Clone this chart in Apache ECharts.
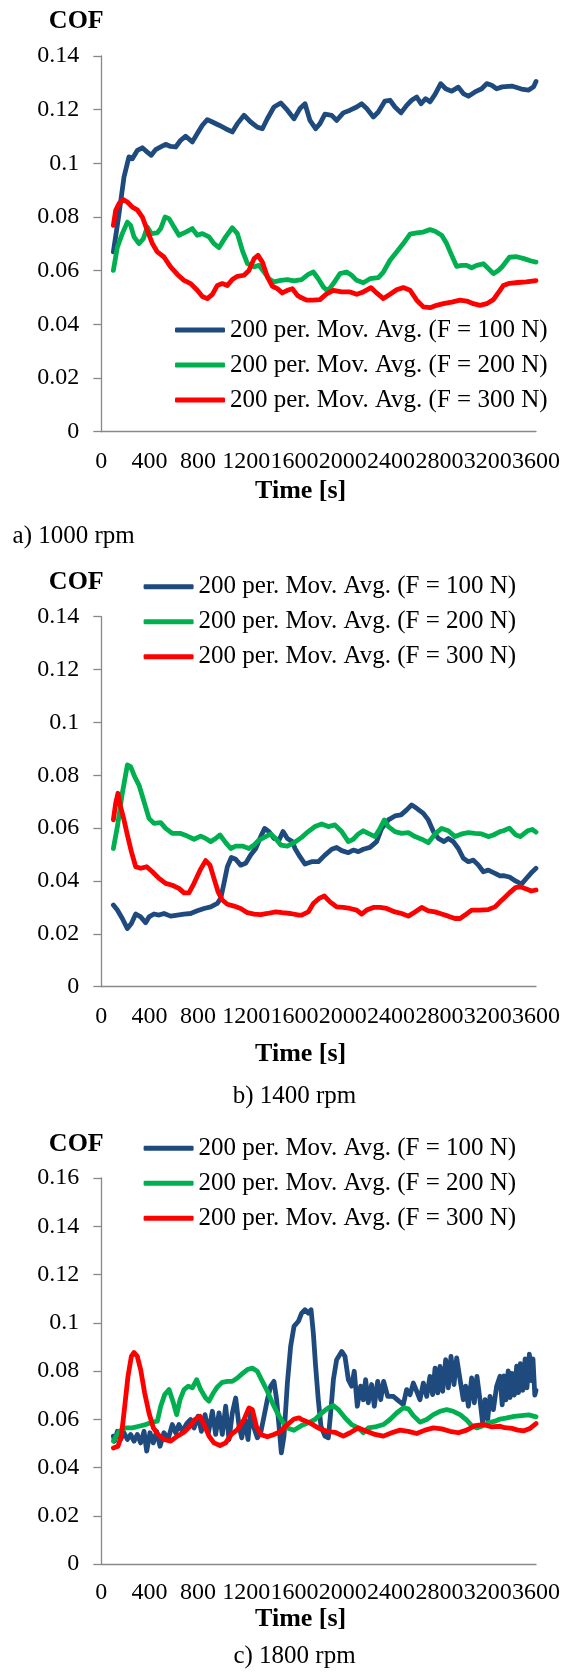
<!DOCTYPE html>
<html>
<head>
<meta charset="utf-8">
<script src="https://cdn.jsdelivr.net/npm/echarts@6/dist/echarts.min.js"></script>
<style>
html,body{margin:0;padding:0;background:#fff;}
#chart{width:566px;height:1673px;}
</style>
</head>
<body>
<div id="chart"></div>
<script>
// ---- data: [time (s), COF] ----
const seriesNames = ['200 per. Mov. Avg. (F = 100 N)', '200 per. Mov. Avg. (F = 200 N)', '200 per. Mov. Avg. (F = 300 N)'];
const captions = ['a) 1000 rpm', 'b) 1400 rpm', 'c) 1800 rpm'];
const xTicks = {min: 0, max: 3600, interval: 400};
const yMaxes = [0.14, 0.14, 0.16];

const a100 = [[100,0.067],[147,0.0813],[188,0.0949],[229,0.1024],[257,0.1017],[298,0.1048],[340,0.1058],[381,0.1042],[414,0.103],[450,0.1051],[492,0.1061],[533,0.1071],[574,0.1063],[616,0.1061],[657,0.1086],[699,0.1101],[754,0.108],[795,0.1111],[837,0.1142],[878,0.1163],[920,0.1154],[975,0.1142],[1030,0.1129],[1085,0.1117],[1127,0.1148],[1182,0.1179],[1237,0.1154],[1292,0.1135],[1334,0.1129],[1375,0.1166],[1430,0.121],[1486,0.1225],[1541,0.1198],[1596,0.1166],[1645,0.1204],[1687,0.1222],[1728,0.116],[1775,0.1129],[1811,0.1148],[1852,0.1183],[1908,0.1179],[1949,0.116],[2004,0.1188],[2060,0.1198],[2115,0.121],[2156,0.1222],[2198,0.1204],[2253,0.1173],[2294,0.1191],[2349,0.1232],[2391,0.1235],[2432,0.121],[2482,0.1188],[2529,0.1216],[2570,0.1235],[2612,0.1247],[2648,0.1222],[2686,0.1241],[2722,0.1229],[2764,0.1257],[2811,0.1297],[2852,0.1278],[2902,0.1269],[2957,0.1284],[2998,0.126],[3040,0.125],[3095,0.1266],[3150,0.1278],[3192,0.1297],[3233,0.1291],[3274,0.1278],[3320,0.1285],[3400,0.1288],[3480,0.1277],[3540,0.1273],[3580,0.1285],[3600,0.1305]];
const a200 = [[100,0.0601],[133,0.0688],[174,0.0738],[216,0.0781],[243,0.0769],[271,0.0726],[312,0.0701],[348,0.0719],[381,0.0763],[414,0.0738],[464,0.0741],[492,0.0757],[528,0.08],[561,0.0794],[602,0.0763],[643,0.0732],[699,0.0744],[754,0.0757],[795,0.0732],[837,0.0738],[892,0.0726],[933,0.0701],[975,0.0686],[1030,0.0726],[1085,0.076],[1127,0.0738],[1168,0.0676],[1210,0.0626],[1265,0.0614],[1306,0.062],[1348,0.0595],[1389,0.057],[1430,0.0558],[1486,0.0564],[1541,0.0567],[1596,0.0562],[1659,0.0567],[1714,0.0586],[1756,0.0595],[1797,0.057],[1839,0.0539],[1875,0.0524],[1922,0.0552],[1977,0.0589],[2032,0.0595],[2073,0.0583],[2115,0.0564],[2170,0.0555],[2225,0.057],[2294,0.0574],[2336,0.0595],[2391,0.0639],[2446,0.067],[2501,0.0701],[2557,0.0736],[2612,0.0741],[2667,0.0744],[2722,0.0753],[2764,0.0747],[2819,0.0732],[2860,0.0701],[2902,0.0657],[2943,0.0616],[2984,0.062],[3026,0.062],[3067,0.0611],[3109,0.062],[3164,0.0626],[3205,0.0608],[3247,0.0589],[3288,0.0601],[3320,0.0615],[3380,0.065],[3440,0.0652],[3500,0.0645],[3560,0.0636],[3600,0.0632]];
const a300 = [[100,0.0769],[119,0.0825],[147,0.085],[182,0.0865],[216,0.0856],[257,0.0837],[298,0.0827],[340,0.08],[381,0.075],[423,0.0701],[464,0.067],[519,0.0651],[574,0.0614],[630,0.0586],[685,0.0564],[740,0.0552],[795,0.0527],[837,0.0504],[878,0.0496],[920,0.0512],[961,0.0545],[1002,0.0552],[1044,0.0545],[1085,0.0567],[1127,0.0579],[1182,0.0583],[1223,0.0601],[1265,0.0645],[1298,0.0657],[1334,0.0632],[1375,0.0577],[1417,0.0542],[1458,0.0533],[1499,0.0517],[1541,0.0527],[1582,0.0533],[1624,0.0508],[1645,0.0502],[1701,0.049],[1756,0.049],[1811,0.0492],[1866,0.0514],[1922,0.0527],[1990,0.0521],[2060,0.0521],[2115,0.0512],[2170,0.0521],[2233,0.0537],[2280,0.0517],[2336,0.0496],[2391,0.0512],[2446,0.0529],[2501,0.0537],[2557,0.0527],[2612,0.049],[2667,0.0465],[2722,0.0462],[2777,0.0471],[2833,0.0477],[2902,0.0483],[2971,0.049],[3026,0.0487],[3081,0.0477],[3136,0.0471],[3192,0.0477],[3247,0.0492],[3302,0.0527],[3330,0.0545],[3380,0.0553],[3450,0.0556],[3520,0.0558],[3600,0.0563]];

const b100 = [[100,0.0309],[133,0.029],[174,0.0258],[216,0.022],[249,0.0239],[285,0.0275],[326,0.0264],[367,0.0242],[395,0.0264],[436,0.0275],[478,0.0271],[519,0.0277],[574,0.0267],[630,0.0271],[685,0.0275],[740,0.0277],[795,0.0287],[851,0.0296],[906,0.0302],[961,0.0315],[989,0.0334],[1016,0.0391],[1044,0.0454],[1077,0.0489],[1113,0.0482],[1154,0.046],[1196,0.0467],[1237,0.0498],[1279,0.0523],[1320,0.0568],[1353,0.0599],[1389,0.0587],[1430,0.0561],[1472,0.0555],[1505,0.0587],[1541,0.0561],[1582,0.0549],[1604,0.0523],[1645,0.0492],[1687,0.0464],[1742,0.0473],[1797,0.0473],[1852,0.0498],[1908,0.052],[1949,0.0527],[1991,0.0515],[2046,0.0507],[2087,0.0517],[2129,0.0511],[2170,0.052],[2225,0.0527],[2280,0.0549],[2322,0.0599],[2377,0.0631],[2432,0.0646],[2482,0.065],[2529,0.0669],[2570,0.0688],[2612,0.0675],[2667,0.0656],[2708,0.0631],[2750,0.0587],[2791,0.0561],[2838,0.0549],[2874,0.0561],[2915,0.0549],[2957,0.0523],[2998,0.0486],[3040,0.0473],[3081,0.0479],[3123,0.046],[3164,0.0435],[3205,0.0441],[3261,0.0429],[3302,0.0419],[3330,0.042],[3380,0.0415],[3430,0.04],[3480,0.0388],[3530,0.0415],[3570,0.0435],[3600,0.0448]];
const b200 = [[100,0.0523],[133,0.0605],[174,0.0732],[216,0.0839],[243,0.0833],[276,0.0795],[312,0.0763],[354,0.07],[395,0.0637],[436,0.0618],[492,0.0621],[533,0.0599],[588,0.058],[657,0.058],[713,0.057],[768,0.0558],[823,0.057],[864,0.0561],[906,0.0549],[947,0.0561],[983,0.0574],[1030,0.0545],[1072,0.0523],[1113,0.0532],[1168,0.0532],[1223,0.0523],[1265,0.0536],[1306,0.0555],[1361,0.0568],[1403,0.0578],[1444,0.0561],[1486,0.0536],[1541,0.0532],[1596,0.0545],[1659,0.0565],[1714,0.0587],[1770,0.0606],[1825,0.0616],[1880,0.0606],[1935,0.0612],[1991,0.0587],[2046,0.0549],[2087,0.0558],[2129,0.0578],[2170,0.059],[2211,0.058],[2267,0.0568],[2308,0.0599],[2344,0.0631],[2377,0.0606],[2432,0.0587],[2487,0.058],[2543,0.0583],[2598,0.0568],[2653,0.0558],[2708,0.0545],[2764,0.0578],[2819,0.0599],[2874,0.059],[2929,0.0568],[2984,0.0578],[3040,0.0583],[3095,0.058],[3150,0.0578],[3205,0.0568],[3247,0.0574],[3302,0.0587],[3330,0.059],[3380,0.06],[3430,0.0575],[3470,0.0568],[3530,0.059],[3570,0.0595],[3600,0.0585]];
const b300 = [[100,0.0631],[119,0.0694],[138,0.0732],[160,0.0681],[188,0.0631],[216,0.0574],[249,0.0511],[285,0.0454],[326,0.0448],[376,0.0454],[423,0.0435],[478,0.041],[533,0.0391],[588,0.0384],[643,0.0372],[685,0.0355],[726,0.0355],[768,0.0391],[818,0.0441],[864,0.0477],[900,0.046],[933,0.041],[967,0.0359],[1002,0.0328],[1044,0.0312],[1099,0.0305],[1154,0.0296],[1210,0.028],[1265,0.0275],[1320,0.0273],[1375,0.0277],[1444,0.0283],[1499,0.028],[1568,0.0277],[1637,0.0271],[1659,0.0271],[1714,0.0283],[1756,0.0315],[1803,0.0334],[1847,0.0343],[1894,0.0321],[1949,0.0302],[2004,0.03],[2060,0.0296],[2115,0.029],[2156,0.0275],[2198,0.029],[2253,0.03],[2308,0.03],[2363,0.0296],[2432,0.0283],[2487,0.0277],[2543,0.0267],[2598,0.0283],[2653,0.03],[2708,0.0287],[2764,0.0283],[2819,0.0275],[2874,0.0267],[2929,0.0258],[2971,0.0258],[3012,0.0271],[3067,0.029],[3136,0.029],[3205,0.0292],[3261,0.0302],[3302,0.0321],[3330,0.0333],[3380,0.0355],[3430,0.0375],[3470,0.0378],[3520,0.037],[3560,0.0362],[3600,0.0366]];

const c100 = [[100,0.053],[110,0.0509],[133,0.055],[160,0.0516],[188,0.0544],[216,0.0516],[243,0.0537],[271,0.0509],[298,0.0537],[326,0.0502],[354,0.055],[376,0.0468],[403,0.0544],[431,0.0502],[458,0.055],[486,0.0488],[519,0.0544],[552,0.0516],[588,0.0578],[616,0.0544],[643,0.0578],[671,0.055],[707,0.0582],[740,0.0599],[768,0.0564],[801,0.0613],[829,0.055],[859,0.0619],[887,0.0544],[920,0.0633],[947,0.0537],[975,0.0626],[1002,0.0537],[1030,0.0654],[1058,0.0516],[1085,0.0626],[1113,0.0688],[1141,0.0571],[1163,0.0523],[1190,0.0599],[1215,0.0516],[1237,0.0633],[1265,0.0564],[1292,0.0523],[1320,0.0544],[1348,0.0613],[1375,0.0681],[1403,0.0737],[1430,0.0757],[1452,0.0681],[1472,0.0571],[1491,0.0461],[1513,0.053],[1541,0.075],[1568,0.0902],[1596,0.0985],[1632,0.1006],[1659,0.104],[1687,0.1054],[1714,0.104],[1737,0.1054],[1756,0.0957],[1775,0.0819],[1797,0.0681],[1819,0.0571],[1852,0.053],[1880,0.0523],[1902,0.064],[1922,0.0764],[1949,0.0847],[1991,0.0881],[2018,0.0861],[2046,0.0764],[2073,0.0737],[2095,0.0799],[2120,0.0654],[2148,0.0737],[2170,0.0681],[2189,0.0764],[2211,0.0668],[2239,0.0744],[2261,0.0654],[2289,0.0757],[2314,0.0681],[2338,0.0757],[2372,0.0695],[2418,0.0695],[2465,0.0675],[2501,0.0661],[2529,0.0723],[2557,0.0702],[2584,0.075],[2612,0.0716],[2639,0.0681],[2667,0.075],[2695,0.0695],[2722,0.0778],[2744,0.0702],[2764,0.0812],[2786,0.0709],[2805,0.0819],[2827,0.0716],[2852,0.0847],[2874,0.073],[2896,0.0861],[2921,0.0744],[2943,0.0854],[2971,0.0764],[2998,0.0681],[3018,0.0737],[3040,0.0654],[3067,0.0771],[3089,0.0668],[3111,0.0778],[3136,0.0681],[3158,0.0585],[3178,0.0681],[3200,0.0599],[3219,0.0695],[3247,0.064],[3274,0.0737],[3302,0.0778],[3320,0.066],[3335,0.078],[3350,0.068],[3370,0.08],[3385,0.069],[3400,0.079],[3420,0.07],[3440,0.082],[3455,0.071],[3470,0.083],[3490,0.072],[3510,0.085],[3525,0.073],[3545,0.087],[3560,0.076],[3575,0.085],[3590,0.07],[3600,0.072]];
const c200 = [[100,0.0509],[147,0.055],[202,0.0564],[257,0.0564],[312,0.0571],[367,0.0578],[423,0.0588],[464,0.0592],[492,0.0654],[525,0.0702],[561,0.0723],[597,0.0668],[624,0.0619],[652,0.0681],[685,0.0723],[721,0.0737],[754,0.073],[790,0.0764],[823,0.0723],[864,0.0688],[892,0.0675],[928,0.0709],[961,0.0734],[1002,0.0753],[1044,0.0757],[1085,0.0757],[1127,0.0771],[1168,0.0789],[1210,0.0806],[1251,0.0812],[1292,0.0799],[1334,0.0757],[1375,0.0716],[1417,0.0668],[1458,0.0626],[1499,0.0592],[1541,0.0564],[1596,0.0554],[1659,0.0574],[1714,0.0585],[1770,0.0599],[1825,0.0626],[1880,0.0647],[1922,0.0657],[1963,0.064],[2018,0.0606],[2073,0.0578],[2129,0.0564],[2170,0.0544],[2211,0.0564],[2267,0.0568],[2336,0.0578],[2391,0.0599],[2446,0.0626],[2501,0.0647],[2543,0.0643],[2584,0.0615],[2639,0.0588],[2695,0.0599],[2750,0.0619],[2805,0.0633],[2860,0.064],[2915,0.0633],[2971,0.0619],[3026,0.0596],[3067,0.0574],[3109,0.0564],[3150,0.0571],[3205,0.0585],[3261,0.0592],[3302,0.0601],[3350,0.0605],[3420,0.0612],[3480,0.0615],[3540,0.0618],[3600,0.061]];
const c300 = [[100,0.0481],[138,0.0488],[166,0.053],[194,0.0654],[221,0.0778],[249,0.0861],[271,0.0877],[298,0.0861],[326,0.0806],[359,0.0709],[395,0.0626],[431,0.0564],[470,0.0537],[519,0.0516],[574,0.0509],[630,0.053],[685,0.0546],[735,0.0571],[776,0.0599],[817,0.0612],[851,0.0578],[892,0.053],[933,0.0502],[983,0.0491],[1030,0.0502],[1077,0.0537],[1127,0.0557],[1182,0.0599],[1223,0.0647],[1251,0.064],[1284,0.0571],[1320,0.0537],[1375,0.0527],[1430,0.0537],[1486,0.055],[1541,0.0578],[1596,0.0601],[1637,0.0606],[1659,0.0599],[1728,0.0585],[1797,0.0564],[1866,0.055],[1935,0.0546],[2004,0.053],[2060,0.0544],[2129,0.0564],[2198,0.055],[2267,0.0537],[2336,0.053],[2405,0.0544],[2474,0.0555],[2543,0.055],[2612,0.0541],[2681,0.0555],[2750,0.0564],[2819,0.056],[2888,0.055],[2957,0.0544],[3026,0.0555],[3095,0.0574],[3164,0.0578],[3233,0.0568],[3302,0.0571],[3340,0.0565],[3400,0.0562],[3450,0.0555],[3500,0.0552],[3550,0.0562],[3600,0.0582]];

// ---- layout / style ----
const FONT = '"Liberation Serif", "Times New Roman", serif';
const COLORS = ['#1F4A7E', '#00B050', '#FF0000'];
const AXIS_COLOR = '#888888';
const panels = [
  {data: [a100, a200, a300], top: 56, height: 375.7, nameGapY: 22, nameGapX: 47, labelMargin: 18,
   legend: {left: 175, top: 317}, caption: {x: 12.6, y: 536.7, align: 'left'}},
  {data: [b100, b200, b300], top: 616.7, height: 370, nameGapY: 21, nameGapX: 55, labelMargin: 18,
   legend: {left: 143.6, top: 573.7}, caption: {x: 294.5, y: 1096.7, align: 'center'}},
  {data: [c100, c200, c300], top: 1178, height: 386, nameGapY: 21, nameGapX: 38, labelMargin: 17,
   legend: {left: 143.6, top: 1135.3}, caption: {x: 294.5, y: 1656.7, align: 'center'}}
];
const GRID_LEFT = 101.3, GRID_WIDTH = 434.7;

const option = {
  animation: false,
  backgroundColor: '#ffffff',
  grid: [], xAxis: [], yAxis: [], series: [], legend: [], graphic: []
};

panels.forEach((p, i) => {
  option.grid.push({left: GRID_LEFT, top: p.top, width: GRID_WIDTH, height: p.height, containLabel: false});
  option.xAxis.push({
    type: 'value', gridIndex: i, min: xTicks.min, max: xTicks.max, interval: xTicks.interval,
    name: 'Time [s]', nameLocation: 'middle', nameGap: p.nameGapX,
    nameTextStyle: {fontFamily: FONT, fontSize: 26, fontWeight: 'bold', color: '#000', lineHeight: 26, padding: [0, 36, 0, 0]},
    axisLine: {show: true, lineStyle: {color: AXIS_COLOR, width: 1.3}},
    axisTick: {show: false},
    splitLine: {show: false},
    axisLabel: {fontFamily: FONT, fontSize: 24, color: '#000', margin: p.labelMargin,
      showMinLabel: true, showMaxLabel: true, hideOverlap: false,
      formatter: function (v) { return String(v); }}
  });
  option.yAxis.push({
    type: 'value', gridIndex: i, min: 0, max: yMaxes[i], interval: 0.02,
    name: 'COF', nameLocation: 'end', nameGap: p.nameGapY,
    nameTextStyle: {fontFamily: FONT, fontSize: 26, fontWeight: 'bold', color: '#000', lineHeight: 26, align: 'center', padding: [0, 50, 0, 0]},
    axisLine: {show: true, lineStyle: {color: AXIS_COLOR, width: 1.3}},
    axisTick: {show: true, length: 8, lineStyle: {color: AXIS_COLOR, width: 1.3}},
    splitLine: {show: false},
    axisLabel: {fontFamily: FONT, fontSize: 24, color: '#000', margin: 22,
      formatter: function (v) { return String(Math.round(v * 1000) / 1000); }}
  });
  p.data.forEach((d, k) => {
    option.series.push({
      type: 'line', name: seriesNames[k], xAxisIndex: i, yAxisIndex: i, data: d,
      showSymbol: false, symbol: 'none', smooth: false,
      lineStyle: {color: COLORS[k], width: 4.8, cap: 'round', join: 'round'},
      itemStyle: {color: COLORS[k]}, z: 2 + k
    });
  });
  option.legend.push({
    orient: 'vertical', left: p.legend.left, top: p.legend.top, padding: 0,
    itemWidth: 50, itemHeight: 5, itemGap: 9, icon: 'roundRect', selectedMode: false,
    data: seriesNames.slice(),
    textStyle: {fontFamily: FONT, fontSize: 25, color: '#000', lineHeight: 26}
  });
  option.graphic.push({
    type: 'text', x: p.caption.x, y: p.caption.y,
    style: {text: captions[i], fontFamily: FONT, fontSize: 25, fill: '#000', align: p.caption.align, verticalAlign: 'middle'}
  });
});

const chart = echarts.init(document.getElementById('chart'), null, {renderer: 'canvas'});
chart.setOption(option);
</script>
</body>
</html>
